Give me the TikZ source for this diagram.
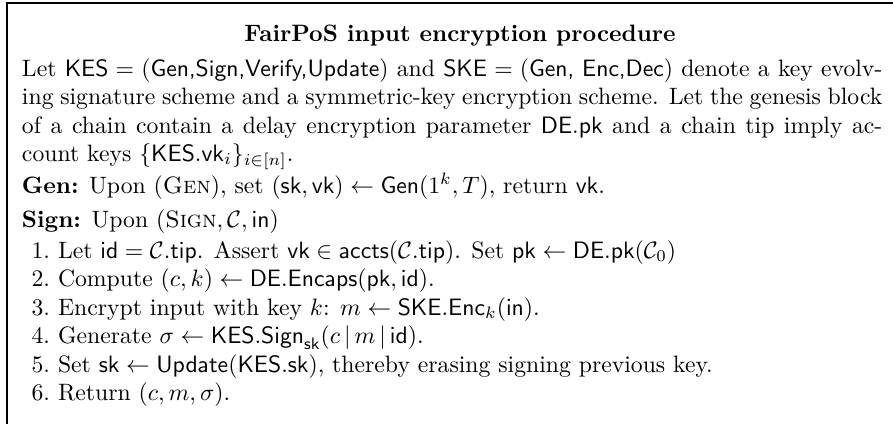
\documentclass[tikz,border=0pt]{standalone}
\usepackage{tikz}
\tikzset{
  txt/.style={anchor=base west, inner sep=0pt, outer sep=0pt},
  lbl/.style={anchor=base east, inner sep=0pt, outer sep=0pt},
  ttl/.style={anchor=base, inner sep=0pt, outer sep=0pt, font=\bfseries},
  frameline/.style={line width=0.6pt}
}
\newcommand{\jline}[1]{\hbox to 363pt{#1}}
\begin{document}
\begin{tikzpicture}[x=0.4219pt,y=-0.4219pt]
\useasboundingbox (0,0) rectangle (893,424);
\coordinate (fbl) at (7,424);
\coordinate (ftl) at (7,3);
\coordinate (ftr) at (893,3);
\draw[frameline] (fbl) -- (ftl) -- (ftr);
\node[ttl] (title) at (460,41) {FairPoS input encryption procedure};
\node[txt] (p1) at (22,76) {\jline{Let $\mathsf{KES} = (\textsf{Gen,Sign,Verify,Update})$ and $\mathsf{SKE} = (\textsf{Gen, Enc,Dec})$ denote a key evolv-}};
\node[txt] (p2) at (22,104) {\jline{ing signature scheme and a symmetric-key encryption scheme. Let the genesis block}};
\node[txt] (p3) at (22,133) {\jline{of a chain contain a delay encryption parameter $\mathsf{DE.pk}$ and a chain tip imply ac-}};
\node[txt] (p4) at (22,161) {count keys $\{\mathsf{KES.vk}_i\}_{i\in[n]}$.};
\node[txt] (gen) at (22,193) {\textbf{Gen:} Upon (\textsc{Gen}), set $(\mathsf{sk},\mathsf{vk}) \leftarrow \mathsf{Gen}(1^k,T)$, return $\mathsf{vk}$.};
\node[txt] (sign) at (22,227) {\textbf{Sign:} Upon $(\textsc{Sign},\mathcal{C},\mathsf{in})$};
\node[lbl] (n1) at (50,258) {1.};
\node[txt] (i1) at (58,258) {Let $\mathsf{id} = \mathcal{C}.\mathsf{tip}$. Assert $\mathsf{vk} \in \mathsf{accts}(\mathcal{C}.\mathsf{tip})$. Set $\mathsf{pk} \leftarrow \mathsf{DE.pk}(\mathcal{C}_0)$};
\node[lbl] (n2) at (50,286.5) {2.};
\node[txt] (i2) at (58,286.5) {Compute $(c,k) \leftarrow \mathsf{DE.Encaps}(\mathsf{pk},\mathsf{id})$.};
\node[lbl] (n3) at (50,315) {3.};
\node[txt] (i3) at (58,315) {Encrypt input with key $k$: $m \leftarrow \mathsf{SKE.Enc}_k(\mathsf{in})$.};
\node[lbl] (n4) at (50,343.5) {4.};
\node[txt] (i4) at (58,343.5) {Generate $\sigma \leftarrow \mathsf{KES.Sign}_{\mathsf{sk}}(c\,|\,m\,|\,\mathsf{id})$.};
\node[lbl] (n5) at (50,372) {5.};
\node[txt] (i5) at (58,372) {Set $\mathsf{sk} \leftarrow \mathsf{Update}(\mathsf{KES.sk})$, thereby erasing signing previous key.};
\node[lbl] (n6) at (50,400.5) {6.};
\node[txt] (i6) at (58,400.5) {Return $(c,m,\sigma)$.};
\end{tikzpicture}
\end{document}
